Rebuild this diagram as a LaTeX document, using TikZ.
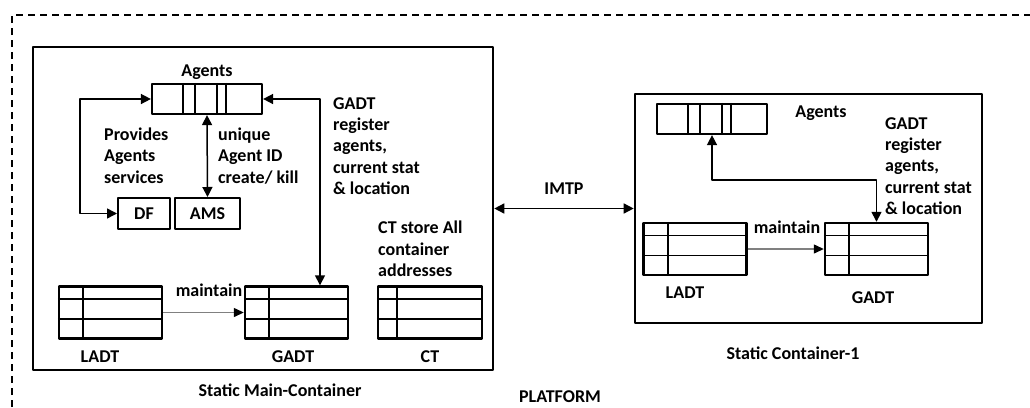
\documentclass[tikz,border=0pt]{standalone}
\usepackage{fontspec}
\setmainfont{Carlito}
\usetikzlibrary{arrows.meta,positioning,calc}

\begin{document}
\begin{tikzpicture}[x=1pt,y=-1pt,line join=round,
    every node/.style={font=\fontsize{18}{21.4}\selectfont\bfseries,inner sep=0pt},
    cbox/.style={draw,line width=2.6pt},
    queue/.style={draw,line width=2.2pt,minimum width=110pt,minimum height=30pt},
    tbl/.style={draw,line width=2.4pt,minimum width=103pt,minimum height=52pt},
    sbox/.style={draw,line width=2pt,minimum height=31pt},
    txt/.style={align=left,anchor=north west},
    link/.style={line width=1.5pt,{Triangle[length=10pt,width=10pt]}-{Triangle[length=10pt,width=10pt]}},
    keep/.style={line width=1.3pt,draw=black!50,-{Triangle[length=10pt,width=9pt,color=black]}}]
  \useasboundingbox (0,0) rectangle (1030,407);
  \draw[line width=1.8pt,dash pattern=on 7pt off 5pt] (12,407) -- (12,15) -- (1030,15);

  \node[cbox,minimum width=460pt,minimum height=323pt] (mainC) at (263,208.5) {};
  \node[cbox,minimum width=347pt,minimum height=229pt] (sc1) at (808.5,208.5) {};
  \draw[link] (mainC.east) -- (sc1.west) node[midway,above=13pt] {IMTP};

  \node[queue] (qL) at (207,99) {};
  \node[above=3pt of qL] (agL) {Agents};
  \node[sbox,minimum width=52pt] (df) at (144,213.5) {DF};
  \node[sbox,minimum width=65pt] (ams) at (207.5,213.5) {AMS};
  \node[tbl] (ladtL) at (110.5,312.5) {};
  \node[tbl] (gadtL) at (296.5,312.5) {};
  \node[tbl,minimum width=104pt] (ctL) at (430,312.5) {};

  \node[queue] (qR) at (712,119) {};
  \node (agR) at (821,113) {Agents};
  \node[tbl] (ladtR) at (695,249) {};
  \node[tbl] (gadtR) at (876.5,249) {};

  \foreach \q in {qL,qR}
    \foreach \d in {32,44,66,75}
      \draw[line width=1.8pt] ([xshift=\d pt]\q.north west) -- ([xshift=\d pt]\q.south west);
  \foreach \t/\c in {ladtL/25,gadtL/25,ctL/20,ladtR/26,gadtR/25} {
    \draw[line width=1.8pt] ([xshift=\c pt]\t.north west) -- ([xshift=\c pt]\t.south west);
    \foreach \d in {13.5,33.5}
      \draw[line width=1.4pt] ([yshift=-\d pt]\t.north west) -- ([yshift=-\d pt]\t.north east);
  }

  \draw[link] (qL.west) -- ++(-71,0) |- (df.west);
  \draw[link] (qL.south) -- (ams.north);
  \draw[link] (qL.east) -| ([xshift=23.5pt]gadtL.north);
  \draw[keep] (ladtL.east) -- (gadtL.west);
  \draw[link] (qR.south) -- ++(0,45) -| (gadtR.north);
  \draw[keep] (ladtR.east) -- (gadtR.west);

  \node[txt] (prov) at (104,127.5) {Provides\\Agents\\services};
  \node[txt] (uniq) at (218,127.5) {unique\\Agent ID\\create/ kill};
  \node[txt] (regL) at (333,97) {GADT\\register\\agents,\\current stat\\\& location};
  \node[txt] (ctxt) at (378,221) {CT store All\\container\\addresses};
  \node[txt] (regR) at (885,117) {GADT\\register\\agents,\\current stat\\\& location};
  \node (mtL) at (209,290) {maintain};
  \node (mtR) at (787,227) {maintain};

  \node (lbLadtL) at (100,357) {LADT};
  \node (lbGadtL) at (293,357) {GADT};
  \node (lbCt) at (430,357) {CT};
  \node (lbLadtR) at (685,293) {LADT};
  \node (lbGadtR) at (873,298) {GADT};
  \node (lbMain) at (280,390) {Static Main-Container};
  \node (lbSc1) at (793,353) {Static Container-1};
  \node (lbPlat) at (560,397) {PLATFORM};
\end{tikzpicture}
\end{document}
